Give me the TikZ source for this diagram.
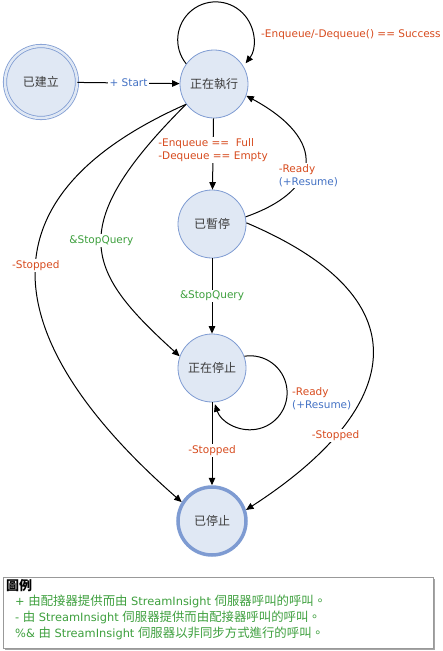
\documentclass[tikz,border=0pt]{standalone}
\usepackage{fontspec}
\setmainfont{DejaVu Sans}
\newfontfamily\cjk{Noto Sans CJK TC}
\usetikzlibrary{arrows.meta}
\definecolor{stfill}{RGB}{224,232,244}
\definecolor{stborder}{RGB}{126,155,210}
\definecolor{lblred}{RGB}{215,75,30}
\definecolor{lblblue}{RGB}{68,114,196}
\definecolor{lblgreen}{RGB}{62,160,62}
\definecolor{sttext}{RGB}{60,60,60}
\begin{document}
\begin{tikzpicture}[x=1pt,y=-1pt,
  font=\fontsize{10.5}{13}\selectfont,
  state/.style={circle, draw=stborder, fill=stfill, line width=0.8pt,
    minimum size=68pt, inner sep=0pt, text=sttext,
    font=\cjk\fontsize{12}{13}\selectfont},
  edge/.style={-{Triangle[length=7.5pt,width=6.5pt]}, line width=1pt, black},
  lbl/.style={fill=white, inner sep=1.5pt},
  legendtext/.style={font=\fontsize{11.4}{16}\selectfont, text=lblgreen, align=left}]
\useasboundingbox (0,0) rectangle (443,651);

% states
\node[state, double=stfill, double distance=2.5pt, minimum size=72pt] (created) at (41,82) {已建立};
\node[state] (run) at (214,84) {正在執行};
\node[state] (paused) at (212,224) {已暫停};
\node[state] (stopping) at (212,368) {正在停止};
\node[state, line width=3.5pt] (stopped) at (212,521) {已停止};

% transitions
\draw[edge] (created) -- node[lbl, text=lblblue] {+ Start} (run);

\draw[edge] (run.144) arc[start angle=219, end angle=-38, radius=38pt];
\node[anchor=west, text=lblred, inner sep=0pt] (loopA) at (261,35) {-Enqueue/-Dequeue() == Success};

\draw[edge] (run) -- node[lbl, text=lblred, align=left, pos=0.44] {-Enqueue ==\ \ Full\\-Dequeue == Empty} (paused);

\draw[edge] (paused.12) .. controls (322,190) and (328,140) ..
  node[lbl, pos=0.4, xshift=6pt, align=left] {\textcolor{lblred}{-Ready}\\\textcolor{lblblue}{(+Resume)}} (run.-20);

\draw[edge] (paused) -- node[lbl, text=lblgreen] {\&StopQuery} (stopping);

\draw[edge] (run.216) .. controls (62,228) and (87,272) ..
  node[lbl, text=lblgreen, pos=0.48] {\&StopQuery} (stopping.160);

\draw[edge] (run.216) .. controls (-48,208) and (23,363) ..
  node[lbl, text=lblred, pos=0.44] {-Stopped} (stopped.148);

\draw[edge] (paused.2) .. controls (433,302) and (396,413) ..
  node[lbl, text=lblred, pos=0.75] {-Stopped} (stopped.18);

\draw[edge] (stopping.20) arc[start angle=99, end angle=-162, radius=37pt];
\node[anchor=west, align=left, inner sep=0pt] (loopB) at (292,399) {\textcolor{lblred}{-Ready}\\\textcolor{lblblue}{(+Resume)}};

\draw[edge] (stopping) -- node[lbl, text=lblred, pos=0.58] {-Stopped} (stopped);

% legend
\fill[black!35] (5,579) rectangle (435,650);
\draw[draw=black!40, fill=white, line width=0.8pt] (3,577) rectangle (433,648);
\node[anchor=west, inner sep=0pt, font=\cjk\bfseries\fontsize{13}{15}\selectfont] (legtitle) at (6,586) {圖例};
\node[anchor=north west, legendtext, inner sep=0pt] (legbody) at (15,595)
  {+ {\cjk\fontsize{12.4}{16}\selectfont 由配接器提供而由} StreamInsight {\cjk\fontsize{12.4}{16}\selectfont 伺服器呼叫的呼叫。}\\
   - {\cjk\fontsize{12.4}{16}\selectfont 由} StreamInsight {\cjk\fontsize{12.4}{16}\selectfont 伺服器提供而由配接器呼叫的呼叫。}\\
   \%\& {\cjk\fontsize{12.4}{16}\selectfont 由} StreamInsight {\cjk\fontsize{12.4}{16}\selectfont 伺服器以非同步方式進行的呼叫。}};
\end{tikzpicture}
\end{document}
